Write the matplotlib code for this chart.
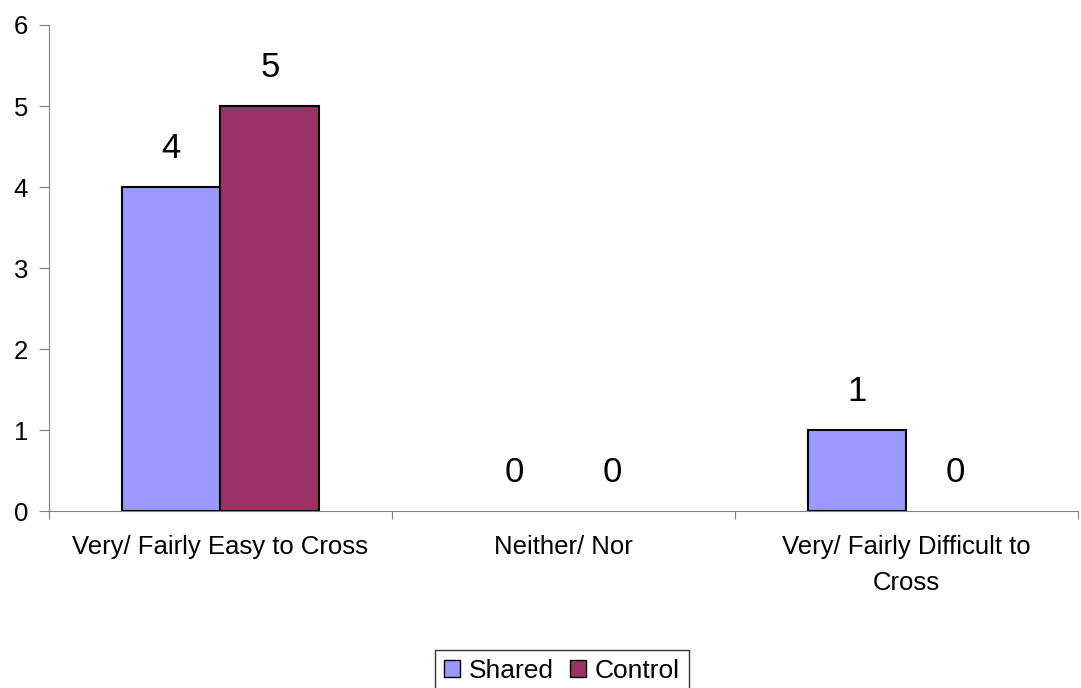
import numpy as np
import matplotlib.pyplot as plt
from matplotlib.patches import Patch

categories = ["Very/ Fairly Easy to Cross", "Neither/ Nor", "Very/ Fairly Difficult to\nCross"]
shared = [4, 0, 1]
control = [5, 0, 0]

plt.rcParams['font.family'] = ['Liberation Sans', 'DejaVu Sans']

fig = plt.figure(figsize=(10.81, 6.88), dpi=100)
ax = fig.add_axes([0.0453, 0.257, 0.9517, 0.7067])

x = np.arange(len(categories))
w = 0.288
b1 = ax.bar(x - w / 2, shared, w, color='#9999ff', edgecolor='black', linewidth=1.5, label='Shared')
b2 = ax.bar(x + w / 2, control, w, color='#993366', edgecolor='black', linewidth=1.5, label='Control')
for bars in (b1, b2):
    for r in bars:
        h = r.get_height()
        if h == 0:
            r.set_linewidth(0)
        ax.text(r.get_x() + r.get_width() / 2, h + 0.27, str(int(h)),
                ha='center', va='bottom', fontsize=25)

ax.set_xlim(-0.5, 2.5)
ax.set_ylim(0, 6)
ax.set_yticks(range(7))
ax.set_xticks([-0.5, 0.5, 1.5, 2.5])
ax.set_xticklabels([])
ax.set_xticks(x, minor=True)
ax.set_xticklabels(categories, minor=True, fontsize=18.5, linespacing=1.65)
ax.tick_params(axis='x', which='minor', length=0, pad=17)
ax.tick_params(axis='x', which='major', length=6, color='#808080')
ax.tick_params(axis='y', labelsize=18.5, length=7, color='#808080', pad=8)
for s in ['top', 'right']:
    ax.spines[s].set_visible(False)
for s in ['left', 'bottom']:
    ax.spines[s].set_color('#808080')

handles = [Patch(facecolor='#9999ff', edgecolor='black'), Patch(facecolor='#993366', edgecolor='black')]
fig.legend(handles, ['Shared', 'Control'], loc='lower center', bbox_to_anchor=(0.52, -0.025), ncol=2,
           fontsize=19, frameon=True, fancybox=False, edgecolor='black', handlelength=0.6, handleheight=0.6,
           handletextpad=0.35, columnspacing=0.6, borderpad=0.35)

fig.savefig('out.png', dpi=100)
